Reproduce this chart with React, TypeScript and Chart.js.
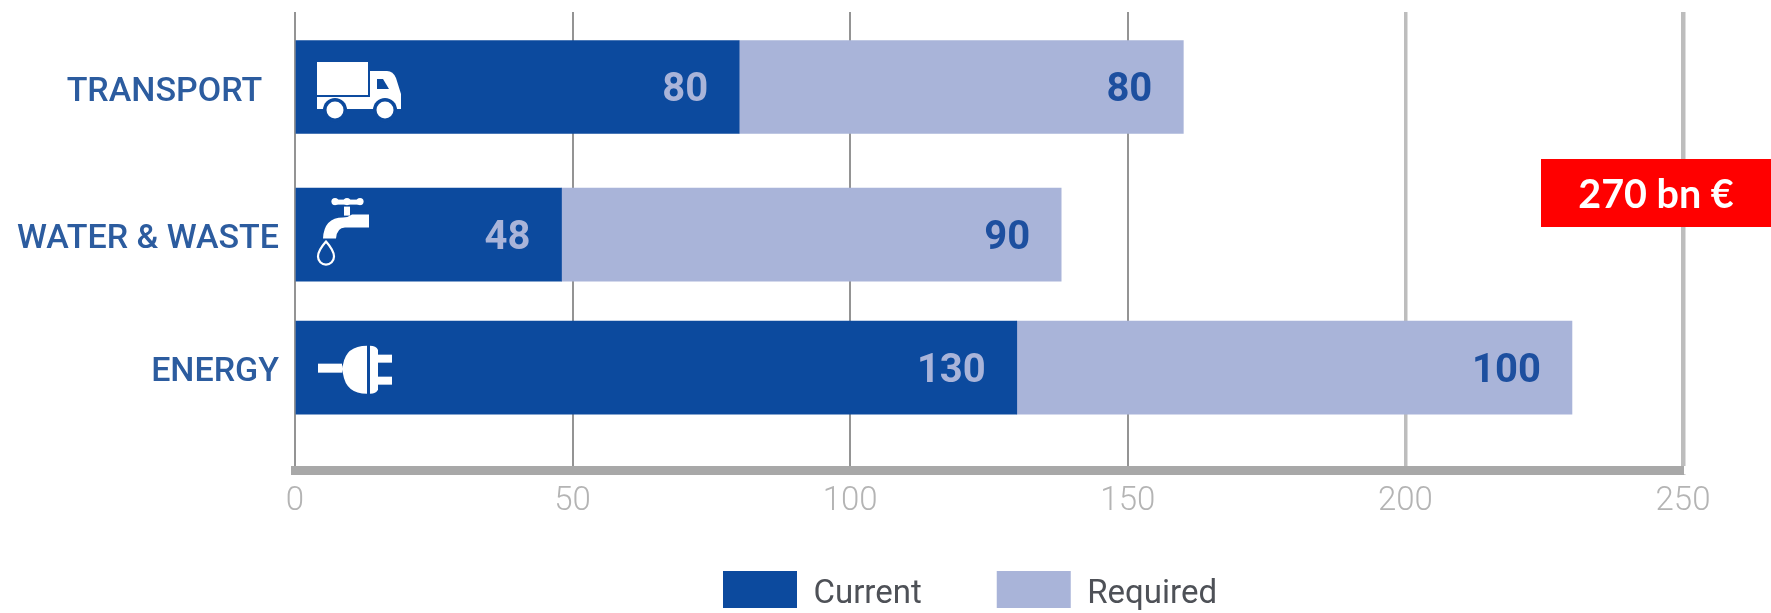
import React, { useEffect, useRef } from "react";
import { Chart, CategoryScale, registerables } from "chart.js";

const categories = ["TRANSPORT  ", "WATER & WASTE", "ENERGY"];
const currentValues = [80, 48, 130];
const requiredValues = [80, 90, 100];
const seriesNames = ["Current", "Required"];
const totalLabel = "270 bn €";
const rowFractions = [0.1636, 0.4855, 0.7757];

const DARK = "#0c4a9e";
const LIGHT = "#a9b4d9";

class RowScale extends CategoryScale {
  static id = "rowScale";
  getPixelForValue(value: any) {
    const v = typeof value === "number" ? value : (this as any).parse(value);
    return this.getPixelForDecimal(rowFractions[v]);
  }
}
Chart.register(...registerables, RowScale as any);

function drawTruck(ctx: CanvasRenderingContext2D, x: number, y: number) {
  ctx.fillStyle = "#fff";
  ctx.fillRect(x + 22, y - 25, 51, 33);
  ctx.fillRect(x + 22, y + 10, 84, 12);
  const cab = new Path2D(`M${x + 75} ${y - 16} h17 q6 0 9 7 l5 16 v15 h-31 z`);
  ctx.fill(cab);
  ctx.fillStyle = DARK;
  ctx.fill(new Path2D(`M${x + 82} ${y - 8} h6 l6 10 h-12 z`));
  for (const dx of [40, 90]) {
    ctx.fillStyle = DARK;
    ctx.beginPath();
    ctx.arc(x + dx, y + 23, 12, 0, Math.PI * 2);
    ctx.fill();
    ctx.fillStyle = "#fff";
    ctx.beginPath();
    ctx.arc(x + dx, y + 23, 8.5, 0, Math.PI * 2);
    ctx.fill();
  }
}

function drawTap(ctx: CanvasRenderingContext2D, x: number, y: number) {
  ctx.fillStyle = "#fff";
  ctx.fillRect(x + 38, y - 35, 29, 5);
  for (const dx of [40, 52, 65]) {
    ctx.beginPath();
    ctx.arc(x + dx, y - 33, 3.6, 0, Math.PI * 2);
    ctx.fill();
  }
  ctx.fillRect(x + 49, y - 28, 6, 9);
  ctx.fill(
    new Path2D(
      `M${x + 74} ${y - 20} v13 h-24 q-8 0 -9 11 h-13 q1 -21 20 -21 q5 0 9 -3 z`
    )
  );
  ctx.strokeStyle = "#fff";
  ctx.lineWidth = 2.2;
  ctx.stroke(
    new Path2D(
      `M${x + 31} ${y + 7} q-8 9 -8 15 a8 8 0 0 0 16 0 q0 -6 -8 -15 z`
    )
  );
}

function drawPlug(ctx: CanvasRenderingContext2D, x: number, y: number) {
  ctx.fillStyle = "#fff";
  ctx.fillRect(x + 23, y - 4, 24, 9);
  ctx.fill(new Path2D(`M${x + 72} ${y - 22} v48 q-21 0 -24 -20 q-2 -6 0 -9 q3 -19 24 -19 z`));
  ctx.fill(new Path2D(`M${x + 75} ${y - 22} q6 0 8 4 v40 q-2 4 -8 4 z`));
  ctx.fillRect(x + 82, y - 13, 15, 8);
  ctx.fillRect(x + 82, y + 9, 15, 8);
}

const decorPlugin = {
  id: "decor",
  afterLayout(chart: any) {
    const legend = chart.legend;
    const pad = legend.options.labels.padding;
    legend.left = 723 - pad;
    legend.top = 571 - pad;
    const protoDraw = Object.getPrototypeOf(legend).draw;
    legend.draw = function () {
      const ctx = this.ctx;
      const native = ctx.fillText;
      ctx.fillText = (t: string, x: number, y: number, m?: number) =>
        m === undefined ? native.call(ctx, t, x, y + 5) : native.call(ctx, t, x, y + 5, m);
      protoDraw.call(this);
      delete ctx.fillText;
    };
  },
  afterDatasetsDraw(chart: any) {
    const ctx: CanvasRenderingContext2D = chart.ctx;
    ctx.save();
    const xScale = chart.scales.x;
    const base = xScale.getPixelForValue(0);
    const icons = [drawTruck, drawTap, drawPlug];
    chart.getDatasetMeta(0).data.forEach((bar: any, i: number) => {
      icons[i](ctx, base, bar.y);
    });
    ctx.font = "700 40px Roboto";
    ctx.textAlign = "right";
    ctx.textBaseline = "middle";
    chart.data.datasets.forEach((ds: any, d: number) => {
      ctx.fillStyle = d === 0 ? LIGHT : "#1d4f9f";
      chart.getDatasetMeta(d).data.forEach((bar: any, i: number) => {
        ctx.fillText(String(ds.data[i]), bar.x - 31, bar.y + 4);
      });
    });
    ctx.fillStyle = "#ff0000";
    ctx.fillRect(1541, 159, 230, 68);
    ctx.fillStyle = "#ffffff";
    ctx.font = "700 39.5px Lato";
    ctx.textAlign = "center";
    ctx.fillText(totalLabel, 1656, 195);
    ctx.restore();
  },
};

export default function App() {
  const ref = useRef<HTMLCanvasElement>(null);
  useEffect(() => {
    document.body.style.margin = "0";
    const gridColors = ["#949494", "#949494", "#949494", "#949494", "#bdbdbd", "#bdbdbd"];
    const gridWidths = [2, 2, 2, 2, 3.5, 4.5];
    const chart = new Chart(ref.current!, {
      type: "bar",
      data: {
        labels: categories,
        datasets: [
          { label: seriesNames[0], data: currentValues, backgroundColor: DARK, barThickness: 93 },
          { label: seriesNames[1], data: requiredValues, backgroundColor: LIGHT, barThickness: 93 },
        ],
      },
      plugins: [decorPlugin],
      options: {
        indexAxis: "y",
        animation: false,
        responsive: false,
        layout: { padding: { top: 12, right: 88, left: 0, bottom: 0 } },
        plugins: {
          tooltip: { enabled: false },
          legend: {
            position: "bottom",
            align: "start",
            maxHeight: 40,
            labels: {
              boxWidth: 74,
              boxHeight: 37,
              padding: 75,
              color: "#4e5157",
              font: { family: "Roboto", size: 33, weight: "400" },
            },
          },
        },
        scales: {
          x: {
            min: 0,
            max: 250,
            stacked: true,
            afterFit(s: any) {
              s.height = 102.5;
              s.paddingLeft = 0;
              s.paddingRight = 0;
            },
            border: { display: true, color: "#a8a8a8", width: 9 },
            grid: {
              drawOnChartArea: true,
              drawTicks: true,
              tickLength: 4,
              color: (c: any) => gridColors[c.index],
              lineWidth: (c: any) => gridWidths[c.index],
              tickColor: "#949494",
            },
            ticks: {
              stepSize: 50,
              autoSkip: false,
              maxRotation: 0,
              padding: 7,
              color: "#b4b4b4",
              font: { family: "Roboto", size: 33, weight: "300" },
            },
          },
          y: {
            type: "rowScale" as any,
            stacked: true,
            afterFit(s: any) {
              s.width = 295;
              s.paddingTop = 0;
              s.paddingBottom = 0;
            },
            border: { display: false },
            grid: { display: false, drawTicks: false },
            ticks: {
              padding: 16,
              labelOffset: 5,
              autoSkip: false,
              color: "#2c5c9f",
              font: { family: "Roboto", size: 34, weight: "500" },
            },
          },
        },
      } as any,
    });
    return () => chart.destroy();
  }, []);
  return <canvas ref={ref} width={1771} height={613} style={{ display: "block" }} />;
}
